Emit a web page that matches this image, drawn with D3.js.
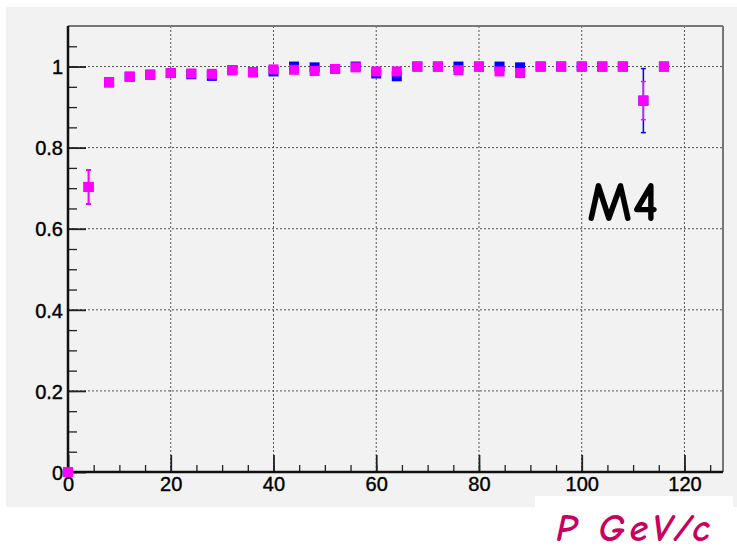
<!DOCTYPE html>
<html>
<head>
<meta charset="utf-8">
<script src="https://cdn.jsdelivr.net/npm/d3@7"></script>
<style>
  body { margin: 0; background: #fff; }
  svg { display: block; }
</style>
</head>
<body>
<svg id="chart" width="737" height="552"></svg>
<script>
// momentum bins (GeV/c)
var momentum = [0, 4, 8, 12, 16, 20, 24, 28, 32, 36, 40, 44, 48, 52, 56, 60, 64, 68, 72, 76, 80, 84, 88, 92, 96, 100, 104, 108, 112, 116];
// blue series
var effBlue = [0, 0.703, 0.961, 0.975, 0.980, 0.984, 0.981, 0.977, 0.991, 0.986, 0.988, 1.0, 0.998, 0.994, 1.0, 0.983, 0.976, 1.0, 1.0, 1.0, 1.0, 1.0, 0.998, 1.0, 1.0, 1.0, 1.0, 1.0, 0.916, 1.0];
var errBlue = [0, 0.042, 0.004, 0.003, 0.003, 0.003, 0.003, 0.003, 0.002, 0.003, 0.003, 0.002, 0.002, 0.002, 0.002, 0.004, 0.005, 0.002, 0.002, 0.002, 0.002, 0.002, 0.003, 0.002, 0.002, 0.002, 0.002, 0.002, 0.079, 0.002];
// magenta series
var effPink = [0, 0.703, 0.961, 0.975, 0.980, 0.984, 0.983, 0.982, 0.991, 0.986, 0.993, 0.992, 0.989, 0.994, 0.998, 0.988, 0.988, 1.0, 1.0, 0.991, 1.0, 0.988, 0.984, 1.0, 1.0, 1.0, 1.0, 1.0, 0.916, 1.0];
var errPink = [0, 0.042, 0.004, 0.003, 0.003, 0.003, 0.003, 0.003, 0.002, 0.003, 0.003, 0.002, 0.002, 0.002, 0.002, 0.004, 0.004, 0.002, 0.002, 0.002, 0.002, 0.002, 0.003, 0.002, 0.002, 0.002, 0.002, 0.002, 0.047, 0.002];
var xTicks = [0, 20, 40, 60, 80, 100, 120];
var yTicks = [0, 0.2, 0.4, 0.6, 0.8, 1];

var svg = d3.select('#chart');
var padL = 68, padT = 26, padR = 723, padB = 472;

// panel background
svg.append('rect').attr('x', 6).attr('y', 7).attr('width', 731).attr('height', 500).attr('fill', '#f2f2f2');

var x = d3.scaleLinear().domain([0, 127.5]).range([padL, padR]);
var y = d3.scaleLinear().domain([0, 1.1]).range([padB, padT]);

// grid
var grid = svg.append('g').attr('class', 'grid');
grid.selectAll('.gx').data(xTicks.slice(1)).enter().append('line')
  .attr('x1', function(d){ return x(d); }).attr('x2', function(d){ return x(d); })
  .attr('y1', padT).attr('y2', padB)
  .attr('stroke', '#555').attr('stroke-width', 1).attr('stroke-dasharray', '2,2');
grid.selectAll('.gy').data(yTicks.slice(1)).enter().append('line')
  .attr('x1', padL).attr('x2', padR)
  .attr('y1', function(d){ return y(d); }).attr('y2', function(d){ return y(d); })
  .attr('stroke', '#555').attr('stroke-width', 1).attr('stroke-dasharray', '2,2');

// frame top/right
svg.append('line').attr('x1', padL).attr('x2', padR).attr('y1', padT).attr('y2', padT).attr('stroke', '#777').attr('stroke-width', 2);
svg.append('line').attr('x1', padR).attr('x2', padR).attr('y1', padT).attr('y2', padB).attr('stroke', '#777').attr('stroke-width', 2);

// axes
var xMinor = d3.range(0, 126, 5);
var yMinor = d3.range(0, 1.1, 0.05);
var xAxisMinor = d3.axisBottom(x).tickValues(xMinor).tickSize(-7).tickFormat('');
var yAxisMinor = d3.axisLeft(y).tickValues(yMinor).tickSize(-9).tickFormat('');
var xAxis = d3.axisBottom(x).tickValues(xTicks).tickSize(-17).tickPadding(5).tickFormat(d3.format('d'));
var yAxis = d3.axisLeft(y).tickValues(yTicks).tickSize(-18).tickPadding(5).tickFormat(function(d){ return d === 0 || d === 1 ? d : d3.format('.1f')(d); });

svg.append('g').attr('transform', 'translate(0,' + padB + ')').call(xAxisMinor)
  .call(function(g){ g.select('.domain').remove(); g.selectAll('line').attr('stroke', '#222').attr('stroke-width', 1.3); });
svg.append('g').attr('transform', 'translate(' + padL + ',0)').call(yAxisMinor)
  .call(function(g){ g.select('.domain').remove(); g.selectAll('line').attr('stroke', '#222').attr('stroke-width', 1.3); });

var gx = svg.append('g').attr('class', 'x axis').attr('transform', 'translate(0,' + padB + ')').call(xAxis);
var gy = svg.append('g').attr('class', 'y axis').attr('transform', 'translate(' + padL + ',0)').call(yAxis);
[gx, gy].forEach(function(g){
  g.select('.domain').remove();
  g.selectAll('line').attr('stroke', '#222').attr('stroke-width', 1.8);
  g.selectAll('text').attr('fill', '#000')
    .style('font-family', '"Liberation Sans", Arial, sans-serif')
    .style('font-size', '20px').style('stroke', '#000').style('stroke-width', 0.4);
});
gx.selectAll('text').attr('dy', '0.72em');
gy.selectAll('text').attr('dy', '0.36em');

svg.append('line').attr('x1', padL).attr('x2', padR).attr('y1', padB).attr('y2', padB).attr('stroke', '#111').attr('stroke-width', 2.5);
svg.append('line').attr('x1', padL).attr('x2', padL).attr('y1', padT).attr('y2', padB).attr('stroke', '#111').attr('stroke-width', 2.5);

// data
function drawSeries(vals, errs, color, cap) {
  var g = svg.append('g');
  var pts = momentum.map(function(m, i){ return {m: m, v: vals[i], e: errs[i]}; });
  var capped = pts.filter(function(d){ return d.e > 0.01; });
  g.selectAll('.err').data(capped).enter().append('line')
    .attr('x1', function(d){ return x(d.m); }).attr('x2', function(d){ return x(d.m); })
    .attr('y1', function(d){ return y(d.v - d.e); }).attr('y2', function(d){ return y(d.v + d.e); })
    .attr('stroke', color).attr('stroke-width', 1.5);
  [-1, 1].forEach(function(s){
    g.selectAll('.cap' + s).data(capped).enter().append('line')
      .attr('x1', function(d){ return x(d.m) - cap; }).attr('x2', function(d){ return x(d.m) + cap; })
      .attr('y1', function(d){ return y(d.v + s * d.e); }).attr('y2', function(d){ return y(d.v + s * d.e); })
      .attr('stroke', color).attr('stroke-width', 1.5);
  });
  g.selectAll('rect').data(pts).enter().append('rect')
    .attr('x', function(d){ return x(d.m) - 5; })
    .attr('y', function(d){ return y(d.v) - 5; })
    .attr('width', 10).attr('height', 10)
    .attr('fill', color);
}
drawSeries(effBlue, errBlue, '#0000ff', 2.5);
drawSeries(effPink, errPink, '#ff00ff', 2.5);

// labels
svg.append('text').attr('x', 587).attr('y', 221).text('M4')
  .style('font-family', '"Comic Sans MS", "Comic Neue", "DejaVu Sans", sans-serif')
  .style('font-size', '56px').style('font-weight', 'bold').attr('fill', '#000');

svg.append('rect').attr('x', 535).attr('y', 496).attr('width', 198).attr('height', 56).attr('fill', '#fff');
svg.append('text').attr('x', 556).attr('y', 541).text('P GeV/c')
  .style('font-family', '"Comic Sans MS", "Comic Neue", "DejaVu Sans", sans-serif')
  .style('font-style', 'italic').style('font-weight', 'bold')
  .style('font-size', '38px').style('letter-spacing', '4px').attr('fill', '#c8005f');
</script>
</body>
</html>
